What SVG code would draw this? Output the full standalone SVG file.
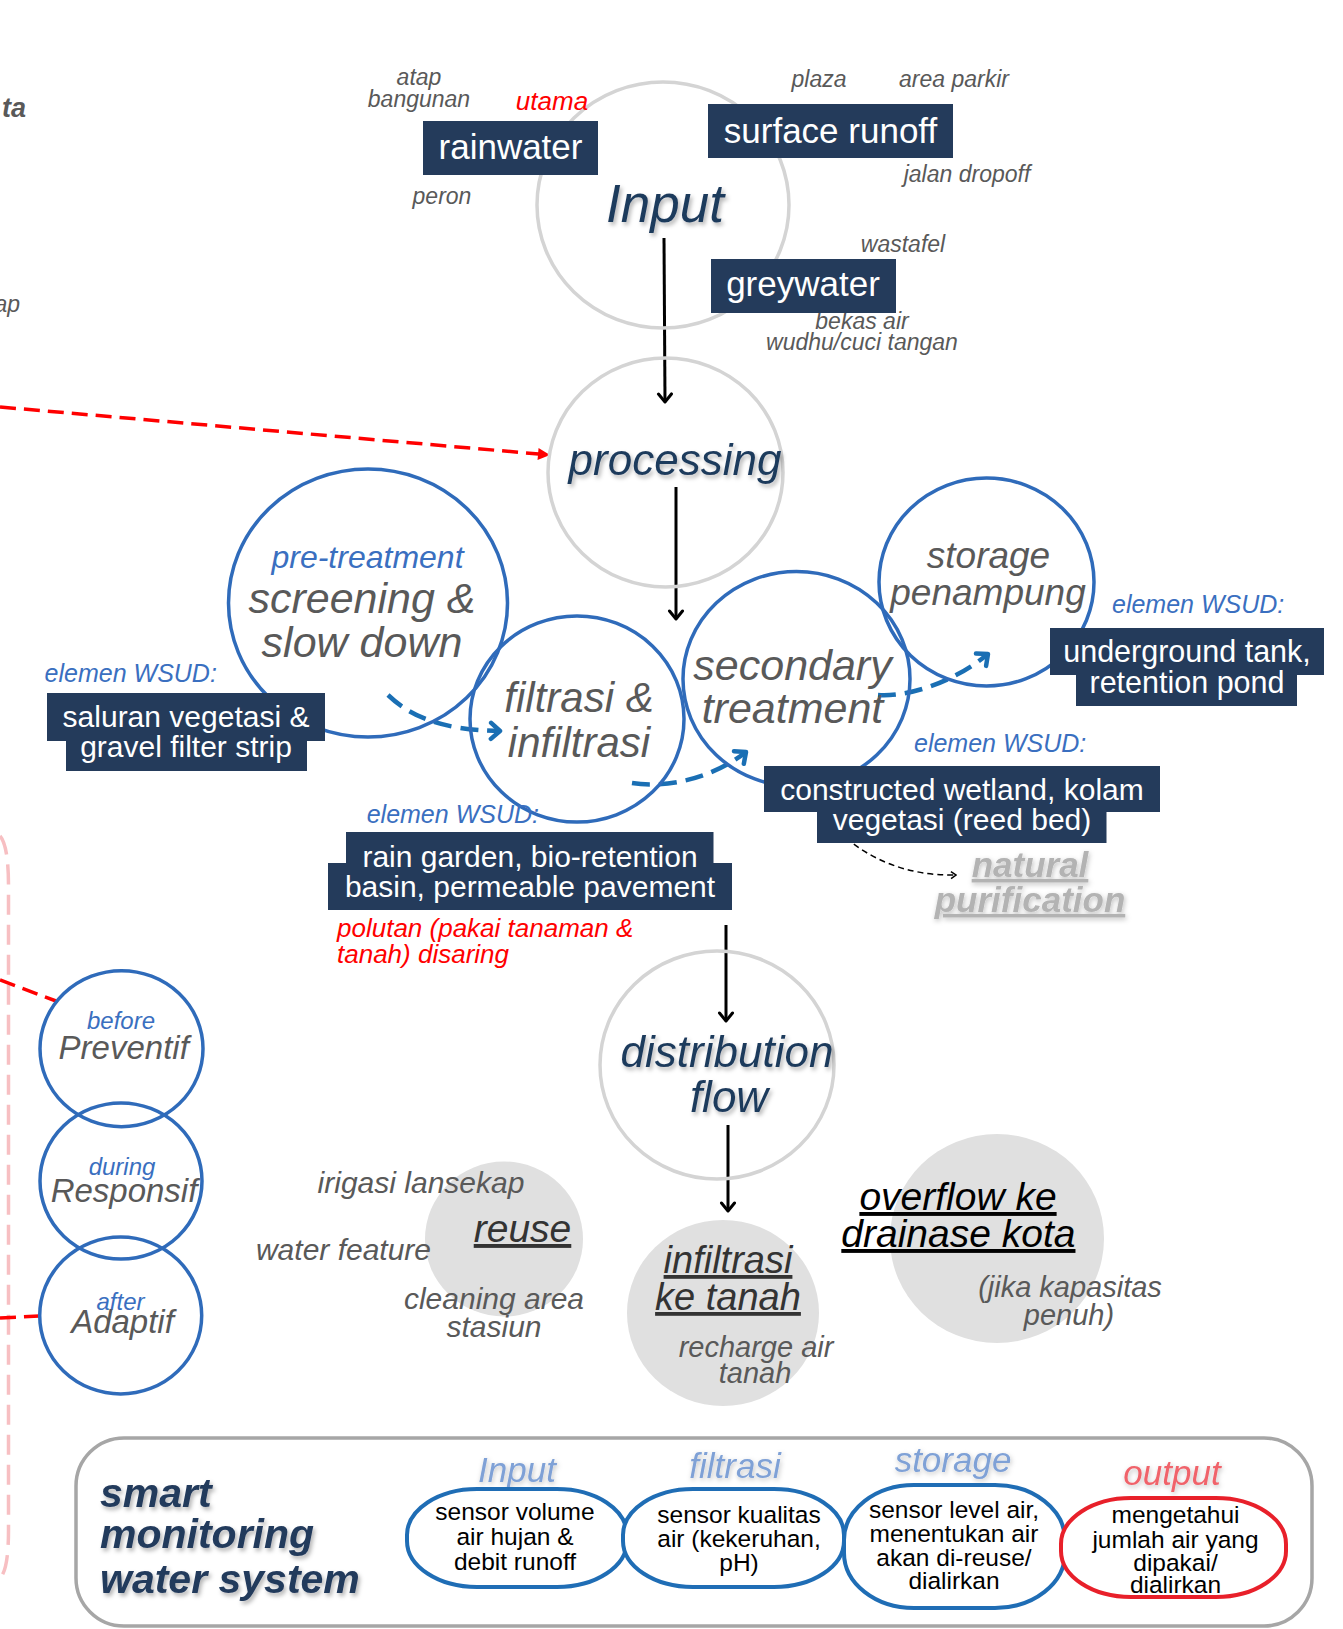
<svg xmlns="http://www.w3.org/2000/svg" width="1343" height="1629" viewBox="0 0 1343 1629">
<defs>
<style>
text{font-family:"Liberation Sans",Arial,sans-serif}
.it{font-style:italic}
.g{fill:#595959}
.sm{font-size:23px;font-style:italic;fill:#595959}
.box{fill:#243b5b}
.bt{fill:#ffffff;font-size:30px;text-anchor:middle}
.big{font-size:35px}
.wsud{font-size:25px;font-style:italic;fill:#3a6fc0}
.gc{fill:none;stroke:#d4d4d4;stroke-width:3.5}
.bc{fill:none;stroke:#2f6bba;stroke-width:3.5}
.fc{fill:#e0e0e0}
.nav{fill:#1f3a5c;font-style:italic;text-anchor:middle}
.mid{text-anchor:middle}
.dash{fill:none;stroke:#1a6fb4;stroke-width:4.5;stroke-dasharray:18 9;marker-end:url(#bh)}
.blk{fill:none;stroke:#000;stroke-width:3;marker-end:url(#kh)}
.red{fill:none;stroke:#ff0000;stroke-width:3.5;stroke-dasharray:16 8}
.sens{fill:#fff;stroke:#1f6db5;stroke-width:4}
.st{font-size:24.5px;fill:#000;text-anchor:middle}
.lab{font-size:35px;font-style:italic;text-anchor:middle}
</style>
<marker id="kh" viewBox="-10 -9 12 18" refX="0" refY="0" markerWidth="12" markerHeight="18" markerUnits="userSpaceOnUse" orient="auto">
<path d="M-8,-6.5 L0,0 L-8,6.5" fill="none" stroke="#000" stroke-width="3" stroke-linecap="round" stroke-linejoin="round"/>
</marker>
<marker id="bh" viewBox="-12 -11 15 22" refX="0" refY="0" markerWidth="15" markerHeight="22" markerUnits="userSpaceOnUse" orient="auto">
<path d="M-9,-8 L0,0 L-9,8" fill="none" stroke="#1a6fb4" stroke-width="4.5" stroke-linecap="round" stroke-linejoin="round"/>
</marker>
<marker id="rh" viewBox="-13 -7 14 14" refX="0" refY="0" markerWidth="14" markerHeight="14" markerUnits="userSpaceOnUse" orient="auto">
<path d="M-12,-6 L0,0 L-12,6 Z" fill="#ff0000"/>
</marker>
<marker id="sh" viewBox="-7 -5 8 10" refX="0" refY="0" markerWidth="8" markerHeight="10" markerUnits="userSpaceOnUse" orient="auto">
<path d="M-5,-3.5 L0,0 L-5,3.5" fill="none" stroke="#000" stroke-width="1.5"/>
</marker>
<filter id="shd" x="-20%" y="-30%" width="140%" height="170%">
<feDropShadow dx="2" dy="3" stdDeviation="2.2" flood-color="#000" flood-opacity="0.3"/>
</filter>
<filter id="glow" x="-20%" y="-30%" width="140%" height="170%">
<feDropShadow dx="1" dy="2" stdDeviation="2.5" flood-color="#000" flood-opacity="0.25"/>
</filter>
</defs>
<rect width="1343" height="1629" fill="#ffffff"/>

<!-- cut-off margin texts -->
<g id="margin">
<text x="26" y="117" text-anchor="end" font-size="27" font-weight="bold" class="it" fill="#595959">ta</text>
<text x="20" y="312" text-anchor="end" font-size="23" class="it" fill="#595959">ap</text>
<path d="M0,836 Q8.5,846 8.5,886 L8.5,1530 Q8.5,1570 0,1578" fill="none" stroke="#f7bfc2" stroke-width="3.5" stroke-dasharray="20 10"/>
</g>

<!-- connectors -->
<g id="connectors">
<path class="red" d="M0,407 L550,455" marker-end="url(#rh)"/>
<path class="red" d="M0,980 L56,1001"/>
<path class="red" d="M0,1318 L39,1316"/>
<path class="blk" d="M664,238 L665,402"/>
<path class="blk" d="M676,487 L676,619"/>
<path class="blk" d="M726,925 L726,1021"/>
<path class="blk" d="M728,1125 L728,1211"/>
<path class="dash" d="M388,695 C410,716 440,730 500,731"/>
<path class="dash" d="M632,783 C665,788 710,780 746,752"/>
<path class="dash" d="M878,695 C905,697 950,685 988,654"/>
<path d="M846,838 C870,858 905,876 956,875" fill="none" stroke="#000" stroke-width="1.5" stroke-dasharray="6 4" marker-end="url(#sh)"/>
</g>

<g id="input">
<ellipse class="gc" cx="663" cy="205" rx="126" ry="123"/>
<text x="665" y="222" font-size="53" class="nav" filter="url(#shd)">Input</text>
<text class="sm mid" x="419" y="85">atap</text>
<text class="sm mid" x="419" y="107">bangunan</text>
<text class="it mid" x="552" y="110" font-size="26" fill="#ff0000">utama</text>
<text class="sm mid" x="442" y="204">peron</text>
<text class="sm mid" x="819" y="87">plaza</text>
<text class="sm mid" x="954" y="87">area parkir</text>
<text class="sm mid" x="967" y="182">jalan dropoff</text>
<text class="sm mid" x="903" y="252">wastafel</text>
<text class="sm mid" x="862" y="329">bekas air</text>
<text class="sm mid" x="862" y="350">wudhu/cuci tangan</text>
</g>
<g id="rainwater">
<rect class="box" x="423" y="121" width="175" height="54"/>
<text class="bt big" x="510.5" y="159">rainwater</text>
</g>
<g id="surface-runoff">
<rect class="box" x="708" y="104" width="245" height="54"/>
<text class="bt big" x="830.5" y="143">surface runoff</text>
</g>
<g id="greywater">
<rect class="box" x="711" y="259" width="185" height="54"/>
<text class="bt big" x="803" y="296">greywater</text>
</g>

<g id="processing">
<ellipse class="gc" cx="665.5" cy="472.5" rx="117.5" ry="114.5"/>
<text x="675" y="475" font-size="44" class="nav" filter="url(#shd)">processing</text>
</g>

<g id="screening">
<ellipse class="bc" cx="368" cy="603" rx="139.5" ry="134"/>
<text class="it mid" x="367.5" y="568" font-size="32" fill="#3a6fc0">pre-treatment</text>
<text class="it mid g" x="362" y="613" font-size="43">screening &amp;</text>
<text class="it mid g" x="362" y="657" font-size="43">slow down</text>
</g>
<g id="wsud-saluran">
<text class="wsud" x="44.6" y="682">elemen WSUD:</text>
<rect class="box" x="47" y="693" width="278" height="48"/>
<rect class="box" x="66" y="740" width="241" height="31"/>
<text class="bt" x="186" y="727">saluran vegetasi &amp;</text>
<text class="bt" x="186" y="757">gravel filter strip</text>
</g>

<g id="filtrasi">
<ellipse class="bc" cx="577" cy="719" rx="107" ry="103"/>
<text class="it mid g" x="579" y="712" font-size="42">filtrasi &amp;</text>
<text class="it mid g" x="579" y="757" font-size="42">infiltrasi</text>
</g>
<g id="wsud-raingarden">
<rect class="box" x="346" y="832" width="367.5" height="32"/>
<rect class="box" x="328" y="863" width="404" height="47"/>
<text class="bt" x="530" y="867">rain garden, bio-retention</text>
<text class="bt" x="530" y="897">basin, permeable pavement</text>
<text class="wsud" x="366.7" y="823">elemen WSUD:</text>
<text class="it" x="337" y="937" font-size="26" fill="#ff0000">polutan (pakai tanaman &amp;</text>
<text class="it" x="337" y="963" font-size="26" fill="#ff0000">tanah) disaring</text>
</g>

<g id="secondary">
<ellipse class="bc" cx="796.5" cy="679" rx="113.5" ry="107.5"/>
<text class="it mid g" x="792.5" y="680" font-size="43">secondary</text>
<text class="it mid g" x="792.5" y="723" font-size="43">treatment</text>
</g>
<g id="wsud-wetland">
<text class="wsud" x="914" y="752">elemen WSUD:</text>
<rect class="box" x="764" y="766" width="396" height="46"/>
<rect class="box" x="817" y="811" width="289.5" height="32"/>
<text class="bt" x="962" y="800">constructed wetland, kolam</text>
<text class="bt" x="962" y="830">vegetasi (reed bed)</text>
</g>
<g id="natural-purification">
<text class="it mid" x="1030" y="877" font-size="35" font-weight="bold" fill="#b3b3b3" text-decoration="underline" filter="url(#glow)">natural</text>
<text class="it mid" x="1030" y="912" font-size="35" font-weight="bold" fill="#b3b3b3" text-decoration="underline" filter="url(#glow)">purification</text>
</g>

<g id="storage">
<ellipse class="bc" cx="986.5" cy="582" rx="107.5" ry="104"/>
<text class="it mid g" x="988.5" y="568" font-size="37">storage</text>
<text class="it mid g" x="988" y="605" font-size="37">penampung</text>
</g>
<g id="wsud-tank">
<text class="wsud" x="1112" y="613">elemen WSUD:</text>
<rect class="box" x="1050" y="628" width="274" height="47"/>
<rect class="box" x="1076" y="674" width="221" height="32"/>
<text class="bt" x="1187" y="662" style="font-size:30.5px">underground tank,</text>
<text class="bt" x="1187" y="693" style="font-size:30.5px">retention pond</text>
</g>

<g id="distribution">
<ellipse class="gc" cx="717" cy="1065" rx="117" ry="114"/>
<text x="727" y="1067" font-size="44" class="nav" filter="url(#shd)">distribution</text>
<text x="729" y="1112" font-size="44" class="nav" filter="url(#shd)">flow</text>
</g>

<g id="reuse">
<ellipse class="fc" cx="504" cy="1239" rx="79" ry="77.5"/>
<text class="it mid" x="522.5" y="1242" font-size="39" fill="#333" text-decoration="underline">reuse</text>
<text class="it mid g" x="421" y="1193" font-size="30">irigasi lansekap</text>
<text class="it mid g" x="343.5" y="1260" font-size="30">water feature</text>
<text class="it mid g" x="494" y="1309" font-size="30">cleaning area</text>
<text class="it mid g" x="494" y="1337" font-size="30">stasiun</text>
</g>

<g id="infiltrasi-tanah">
<ellipse class="fc" cx="723" cy="1313" rx="96" ry="93"/>
<text class="it mid" x="728" y="1273" font-size="38" fill="#333" text-decoration="underline">infiltrasi</text>
<text class="it mid" x="728" y="1310" font-size="38" fill="#333" text-decoration="underline">ke tanah</text>
<text class="it mid g" x="756" y="1357" font-size="29">recharge air</text>
<text class="it mid g" x="755" y="1383" font-size="29">tanah</text>
</g>

<g id="overflow">
<ellipse class="fc" cx="997" cy="1238.5" rx="107" ry="104.5"/>
<text class="it mid" x="958" y="1210" font-size="39" fill="#000" text-decoration="underline">overflow ke</text>
<text class="it mid" x="958.4" y="1247" font-size="39" fill="#000" text-decoration="underline">drainase kota</text>
<text class="it mid g" x="1070" y="1297" font-size="29">(jika kapasitas</text>
<text class="it mid g" x="1069" y="1325" font-size="29">penuh)</text>
</g>

<g id="preventif">
<ellipse class="bc" cx="121.5" cy="1048.7" rx="81.5" ry="78"/>
<text class="it mid" x="121" y="1029" font-size="24" fill="#3a6fc0">before</text>
<text class="it mid g" x="123.7" y="1059" font-size="33">Preventif</text>
</g>
<g id="responsif">
<ellipse class="bc" cx="121" cy="1181" rx="81" ry="78"/>
<text class="it mid" x="122" y="1175" font-size="24" fill="#3a6fc0">during</text>
<text class="it mid g" x="124" y="1202" font-size="33">Responsif</text>
</g>
<g id="adaptif">
<ellipse class="bc" cx="120.7" cy="1315.5" rx="81" ry="78.5"/>
<text class="it mid" x="120.5" y="1310" font-size="24" fill="#3a6fc0">after</text>
<text class="it mid g" x="122.5" y="1333" font-size="33">Adaptif</text>
</g>

<g id="smart-monitoring">
<rect x="76" y="1438" width="1236" height="188" rx="48" ry="48" fill="none" stroke="#a6a6a6" stroke-width="3.5"/>
<g font-size="41" font-weight="bold" font-style="italic" fill="#233a5c" filter="url(#shd)">
<text x="100" y="1507">smart</text>
<text x="100" y="1548">monitoring</text>
<text x="100" y="1593">water system</text>
</g>
</g>
<g id="sensor-input">
<text class="lab" x="517" y="1482" fill="#7fa1d6" filter="url(#glow)">Input</text>
<rect class="sens" x="407" y="1489" width="220" height="98" rx="70" ry="46"/>
<text class="st" x="515" y="1520">sensor volume</text>
<text class="st" x="515" y="1545">air hujan &amp;</text>
<text class="st" x="515" y="1570">debit runoff</text>
</g>
<g id="sensor-filtrasi">
<text class="lab" x="735" y="1478" fill="#7fa1d6" filter="url(#glow)">filtrasi</text>
<rect class="sens" x="623" y="1489" width="221" height="98" rx="70" ry="46"/>
<text class="st" x="739" y="1523">sensor kualitas</text>
<text class="st" x="739" y="1547">air (kekeruhan,</text>
<text class="st" x="739" y="1571">pH)</text>
</g>
<g id="sensor-storage">
<text class="lab" x="953" y="1472" fill="#7fa1d6" filter="url(#glow)">storage</text>
<rect class="sens" x="844" y="1485" width="221" height="123" rx="70" ry="55"/>
<text class="st" x="954" y="1518">sensor level air,</text>
<text class="st" x="954" y="1542">menentukan air</text>
<text class="st" x="954" y="1566">akan di-reuse/</text>
<text class="st" x="954" y="1589">dialirkan</text>
</g>
<g id="sensor-output">
<text class="lab" x="1172" y="1485" fill="#f0636b" filter="url(#glow)">output</text>
<rect x="1061" y="1498" width="225" height="99" rx="70" ry="46" fill="#fff" stroke="#e8202a" stroke-width="4"/>
<text class="st" x="1175.5" y="1523">mengetahui</text>
<text class="st" x="1175.5" y="1548">jumlah air yang</text>
<text class="st" x="1175.5" y="1571">dipakai/</text>
<text class="st" x="1175.5" y="1593">dialirkan</text>
</g>
</svg>
